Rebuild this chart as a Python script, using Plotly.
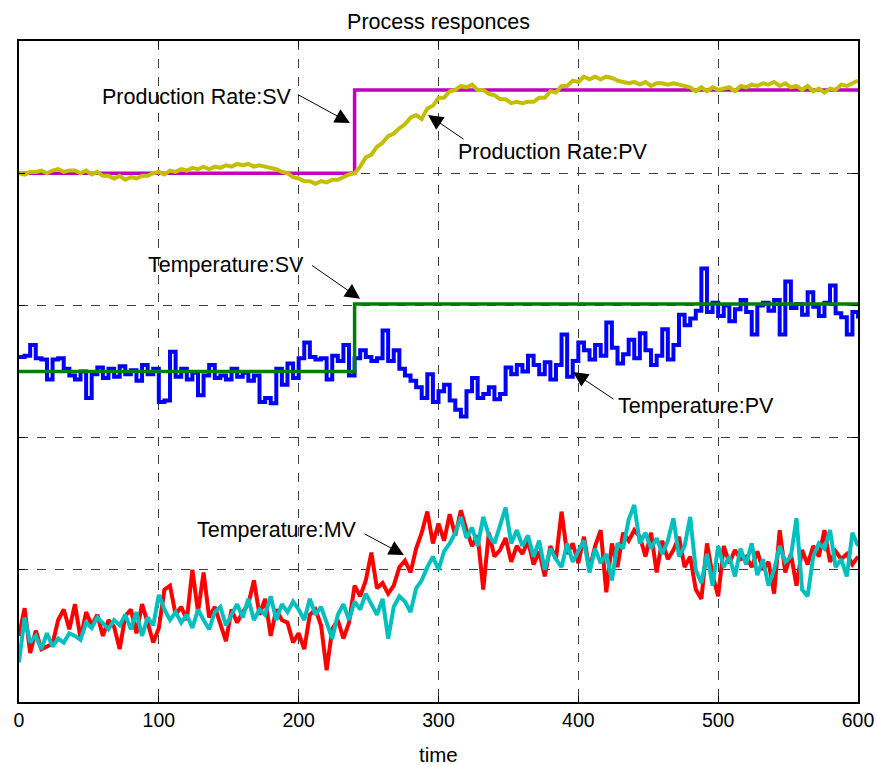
import plotly.graph_objects as go

# ---- data ----
time = list(range(0, 601, 4))
sv_time = [0, 240, 240, 600]

prod_rate_sv = [4.00, 4.00, 4.63, 4.63]
temp_sv = [2.50, 2.50, 3.01, 3.01]

prod_rate_pv = [
    4.00, 3.99, 4.01, 4.01, 4.02, 4.00, 4.02, 4.03, 4.01, 4.02,
    4.02, 4.00, 4.02, 3.99, 4.01, 3.98, 3.98, 3.96, 3.98, 3.95,
    3.97, 3.96, 3.98, 3.98, 4.00, 4.01, 3.99, 4.02, 4.01, 4.03,
    4.02, 4.04, 4.03, 4.05, 4.03, 4.05, 4.04, 4.06, 4.05, 4.07,
    4.06, 4.07, 4.05, 4.06, 4.05, 4.04, 4.03, 4.01, 4.00, 3.97,
    3.96, 3.94, 3.94, 3.92, 3.94, 3.93, 3.95, 3.95, 3.97, 3.99,
    4.00, 4.05, 4.12, 4.14, 4.20, 4.23, 4.28, 4.30, 4.34, 4.37,
    4.42, 4.44, 4.41, 4.49, 4.51, 4.57, 4.57, 4.62, 4.63, 4.66,
    4.65, 4.67, 4.63, 4.63, 4.60, 4.59, 4.56, 4.56, 4.53, 4.54,
    4.53, 4.54, 4.54, 4.57, 4.57, 4.62, 4.61, 4.66, 4.66, 4.70,
    4.69, 4.73, 4.71, 4.73, 4.71, 4.73, 4.72, 4.70, 4.69, 4.68,
    4.69, 4.67, 4.69, 4.66, 4.68, 4.68, 4.67, 4.68, 4.67, 4.66,
    4.65, 4.62, 4.65, 4.62, 4.65, 4.63, 4.64, 4.65, 4.62, 4.66,
    4.65, 4.67, 4.66, 4.68, 4.67, 4.69, 4.66, 4.68, 4.65, 4.66,
    4.63, 4.66, 4.62, 4.64, 4.61, 4.64, 4.63, 4.67, 4.66, 4.68,
    4.70,
]

temp_pv = [
    2.61, 2.62, 2.70, 2.60, 2.59, 2.44, 2.59, 2.60, 2.52, 2.47,
    2.44, 2.50, 2.30, 2.48, 2.53, 2.45, 2.52, 2.46, 2.54, 2.48,
    2.51, 2.43, 2.55, 2.48, 2.52, 2.27, 2.28, 2.65, 2.46, 2.52,
    2.44, 2.49, 2.32, 2.47, 2.55, 2.45, 2.47, 2.44, 2.52, 2.46,
    2.49, 2.43, 2.47, 2.27, 2.30, 2.26, 2.52, 2.40, 2.56, 2.45,
    2.60, 2.72, 2.61, 2.59, 2.60, 2.44, 2.62, 2.58, 2.70, 2.47,
    2.60, 2.66, 2.61, 2.58, 2.60, 2.81, 2.58, 2.66, 2.52, 2.47,
    2.43, 2.38, 2.30, 2.48, 2.27, 2.35, 2.40, 2.28, 2.21, 2.16,
    2.35, 2.45, 2.30, 2.33, 2.38, 2.29, 2.33, 2.53, 2.48, 2.55,
    2.50, 2.62, 2.55, 2.48, 2.57, 2.44, 2.55, 2.78, 2.46, 2.58,
    2.72, 2.66, 2.59, 2.70, 2.62, 2.87, 2.68, 2.56, 2.63, 2.74,
    2.60, 2.79, 2.66, 2.55, 2.62, 2.82, 2.59, 2.70, 2.93, 2.85,
    2.90, 2.96, 3.28, 2.95, 3.02, 2.92, 3.00, 2.88, 2.97, 3.04,
    2.95, 2.78, 3.00, 3.02, 2.96, 3.04, 2.78, 3.18, 2.98, 3.01,
    2.93, 3.10, 2.99, 2.92, 3.02, 3.15, 2.94, 2.91, 2.78, 2.95,
    2.90,
]

temp_mv = [
    0.50, 0.71, 0.37, 0.54, 0.40, 0.42, 0.44, 0.62, 0.70, 0.55,
    0.74, 0.48, 0.68, 0.58, 0.66, 0.50, 0.62, 0.57, 0.40, 0.65,
    0.70, 0.52, 0.74, 0.60, 0.45, 0.56, 0.85, 0.88, 0.66, 0.72,
    0.62, 1.00, 0.68, 0.98, 0.64, 0.72, 0.58, 0.46, 0.70, 0.60,
    0.68, 0.74, 0.92, 0.66, 0.78, 0.50, 0.70, 0.62, 0.60, 0.45,
    0.52, 0.40, 0.66, 0.70, 0.58, 0.24, 0.55, 0.62, 0.48, 0.60,
    0.88, 0.80, 0.92, 1.13, 0.86, 0.90, 0.82, 0.88, 1.02, 1.07,
    0.98, 1.16, 1.28, 1.44, 1.20, 1.35, 1.22, 1.42, 1.26, 1.45,
    1.30, 1.18, 1.26, 0.85, 1.28, 1.10, 1.15, 1.24, 1.06, 1.18,
    1.12, 1.22, 1.04, 1.14, 0.95, 1.18, 1.08, 1.44, 1.12, 1.20,
    1.05, 1.25, 1.00, 1.18, 1.30, 0.83, 1.20, 1.02, 1.28, 1.22,
    1.30, 1.25, 1.10, 1.28, 0.98, 1.22, 1.08, 1.15, 1.25, 1.02,
    1.10, 0.85, 0.78, 1.20, 0.96, 0.80, 1.18, 1.05, 1.15, 1.08,
    1.10, 1.02, 1.14, 1.00, 1.06, 0.82, 1.30, 0.98, 1.12, 0.88,
    1.15, 1.04, 1.18, 1.10, 1.30, 1.06, 1.14, 1.08, 1.12, 1.04,
    1.10,
]

prod_rate_mv = [
    0.30, 0.64, 0.45, 0.50, 0.40, 0.52, 0.42, 0.48, 0.45, 0.52,
    0.50, 0.47, 0.60, 0.56, 0.64, 0.60, 0.55, 0.62, 0.58, 0.66,
    0.55, 0.68, 0.50, 0.64, 0.58, 0.81, 0.70, 0.62, 0.68, 0.60,
    0.66, 0.56, 0.70, 0.62, 0.55, 0.68, 0.72, 0.58, 0.66, 0.74,
    0.64, 0.78, 0.62, 0.70, 0.66, 0.80, 0.62, 0.74, 0.68, 0.76,
    0.70, 0.62, 0.78, 0.66, 0.72, 0.60, 0.48, 0.66, 0.74, 0.62,
    0.76, 0.70, 0.82, 0.74, 0.66, 0.78, 0.48, 0.72, 0.80, 0.76,
    0.68, 0.86, 0.92, 1.02, 1.10, 1.00, 1.14, 1.20, 1.28, 1.40,
    1.24, 1.32, 1.18, 1.40, 1.26, 1.20, 1.34, 1.47, 1.20, 1.30,
    1.18, 1.26, 1.10, 1.22, 1.00, 1.16, 1.08, 1.02, 1.20, 1.06,
    1.14, 1.22, 0.98, 1.16, 1.05, 1.12, 0.92, 1.20, 1.16, 1.38,
    1.49, 1.20, 1.28, 1.16, 1.24, 1.12, 1.22, 1.39, 1.10, 1.18,
    1.40, 1.00, 0.90, 1.12, 0.88, 1.18, 1.02, 1.10, 0.95, 1.16,
    1.04, 1.20, 0.96, 1.08, 0.88, 1.00, 1.18, 1.06, 1.10, 1.39,
    0.85, 0.80, 1.10, 1.20, 1.16, 1.30, 1.02, 1.08, 0.95, 1.28,
    1.18,
]

x_ticks = [0, 100, 200, 300, 400, 500, 600]
y_ticks = [0, 1, 2, 3, 4, 5]

FONT = "Liberation Sans"
PLOT_H = 765 - 41 - 63

fig = go.Figure()
fig.add_trace(go.Scatter(x=sv_time, y=prod_rate_sv, mode="lines",
                         line=dict(color="#C000C0", width=3.5)))
fig.add_trace(go.Scatter(x=time, y=prod_rate_pv, mode="lines",
                         line=dict(color="#C4BE00", width=4)))
fig.add_trace(go.Scatter(x=time, y=temp_pv, mode="lines",
                         line=dict(color="#0000FF", width=4, shape="hv")))
fig.add_trace(go.Scatter(x=sv_time, y=temp_sv, mode="lines",
                         line=dict(color="#008000", width=3.5)))
fig.add_trace(go.Scatter(x=time, y=temp_mv, mode="lines",
                         line=dict(color="#FF0000", width=4)))
fig.add_trace(go.Scatter(x=time, y=prod_rate_mv, mode="lines",
                         line=dict(color="#00BFBF", width=4)))

# labels with arrows: (text, text_x, text_y, tail_x, tail_y, tip_x, tip_y)
labels = [
    ("Production Rate:SV", 126.6, 4.576, 198.5, 4.60, 236.7, 4.38),
    ("Production Rate:PV", 381.2, 4.16, 319.0, 4.25, 292.5, 4.44),
    ("Temperature:SV", 148.0, 3.306, 208.5, 3.31, 243.9, 3.05),
    ("Temperature:PV", 484.2, 2.239, 426.2, 2.284, 396.2, 2.496),
    ("Temperature:MV", 184.5, 1.301, 246.0, 1.278, 275.3, 1.112),
]
annotations = []
for text, tx, ty, ax_, ay_, hx, hy in labels:
    annotations.append(dict(x=tx, y=ty, xref="x", yref="y", text=text,
                            showarrow=False,
                            font=dict(family=FONT, size=21.5, color="black")))
    annotations.append(dict(x=hx, y=hy, xref="x", yref="y", ax=ax_, ay=ay_,
                            axref="x", ayref="y", text="", showarrow=True,
                            arrowhead=2, arrowsize=3, arrowwidth=1,
                            arrowcolor="black", standoff=0))

annotations.append(dict(x=0.5, y=-(755 - 702) / PLOT_H, xref="paper",
                        yref="paper", text="time", showarrow=False,
                        xanchor="center", yanchor="middle",
                        font=dict(family=FONT, size=20.5, color="black")))

fig.update_layout(
    width=877, height=765,
    margin=dict(l=19, r=19, t=41, b=63, autoexpand=False),
    paper_bgcolor="white", plot_bgcolor="white",
    showlegend=False,
    title=dict(text="Process responces", x=0.5, xanchor="center",
               y=1 - 21 / 765, yanchor="middle",
               font=dict(family=FONT, size=21.5, color="black")),
    annotations=annotations,
)
fig.update_xaxes(
    range=[0, 600], tickvals=x_ticks, ticktext=[str(v) for v in x_ticks],
    showline=True, linecolor="black", linewidth=1.5, mirror="allticks",
    ticks="inside", ticklen=6, tickcolor="black", automargin=False,
    showgrid=True, gridcolor="#404040", griddash="dash", gridwidth=1,
    zeroline=False,
    tickfont=dict(family=FONT, size=19.5, color="black"),
)
fig.update_yaxes(
    range=[0, 5], tickvals=y_ticks, showticklabels=False, automargin=False,
    showline=True, linecolor="black", linewidth=1.5, mirror="allticks",
    ticks="inside", ticklen=6, tickcolor="black",
    showgrid=True, gridcolor="#404040", griddash="dash", gridwidth=1,
    zeroline=False,
)

fig.write_html("out.html")
